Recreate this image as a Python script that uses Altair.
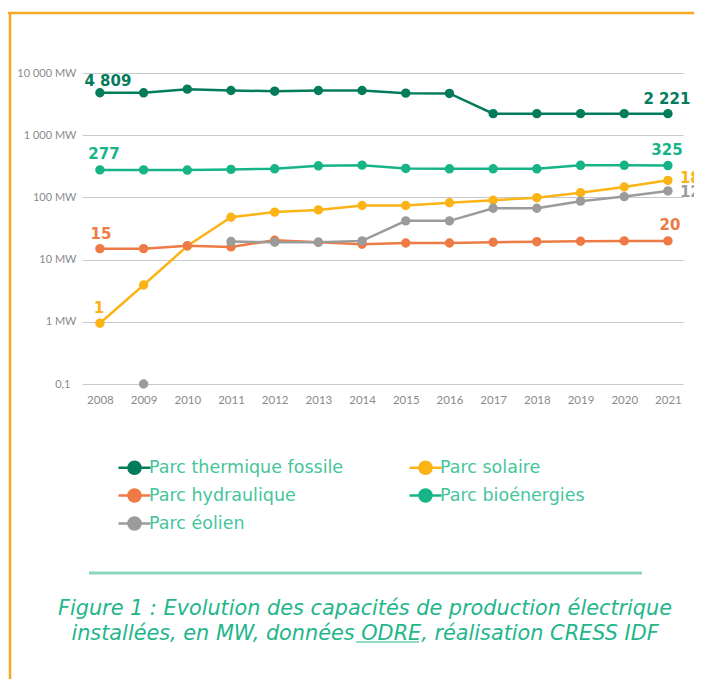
import altair as alt
import pandas as pd

# ---------------- data ----------------
years = list(range(2008, 2022))
series_names = ["Parc thermique fossile", "Parc solaire", "Parc hydraulique",
                "Parc bioénergies", "Parc éolien"]
fossile = [4809, 4800, 5500, 5230, 5100, 5230, 5230, 4740, 4690, 2221, 2221, 2221, 2221, 2221]
solaire = [0.95, 3.9, 16.5, 48, 58, 63, 74, 74, 82, 90, 99, 119, 147, 188]
hydraulique = [15, 15, 16.7, 16, 20.5, 19, 17.7, 18.5, 18.5, 19, 19.4, 19.7, 20, 20]
bioenergies = [277, 277, 275, 282, 288, 322, 330, 292, 288, 288, 288, 328, 328, 325]
eolien = [None, 0.1, None, 19.5, 19, 19, 20, 42, 42, 67, 67, 87, 103, 127]
colors = ["#047C5C", "#FBB316", "#EE7A45", "#17B488", "#9B9B9B"]
y_ticks = [0.1, 1, 10, 100, 1000, 10000]
caption_lines = ["Figure 1 : Evolution des capacités de production électrique",
                 "installées, en MW, données ODRE, réalisation CRESS IDF"]

all_series = [fossile, solaire, hydraulique, bioenergies, eolien]

rows = []
for name, vals in zip(series_names, all_series):
    seg = 0
    for yr, v in zip(years, vals):
        if v is None:
            seg += 1
            continue
        rows.append({"year": yr, "value": v, "series": name, "seg": f"{name}-{seg}"})
df = pd.DataFrame(rows)

AXFONT = "Lato"
FONT = "DejaVu Sans"
W, H = 601, 311

xscale = alt.Scale(domain=[2007.59, 2021.345], nice=False, zero=False)
yscale = alt.Scale(type="log", domain=[0.1, 10000], nice=False)

x_enc = alt.X("year:Q", scale=xscale,
              axis=alt.Axis(values=years, format="d", grid=False, domain=False, ticks=False,
                            title=None, labelFont=AXFONT, labelFontSize=11.5, labelColor="#8a8a8a",
                            labelPadding=10))
y_enc = alt.Y("value:Q", scale=yscale,
              axis=alt.Axis(values=y_ticks, grid=True, gridColor="#c9c9c9", gridWidth=1,
                            domain=False, ticks=False, title=None, labelFont=AXFONT,
                            labelFontSize=11, labelColor="#8a8a8a",
                            labelPadding={"condition": {"test": "datum.value < 1", "value": 12}, "value": 6},
                            labelExpr="datum.value >= 1 ? replace(format(datum.value, ',.0f'), ',', ' ') + ' MW' : '0,1'"))

# legend order: column-major fill of a 2-column grid gives row-major reading order
legend_order = [series_names[i] for i in (0, 2, 4, 1, 3)]
legend_colors = [colors[i] for i in (0, 2, 4, 1, 3)]

sym_path = "M-1.6,0L1.6,0M0.6,0A0.6,0.6,0,1,1,-0.6,0A0.6,0.6,0,1,1,0.6,0Z"
legend = alt.Legend(title=None, orient="none", legendX=41, legendY=383, columns=2,
                    symbolType=sym_path, symbolSize=400, symbolStrokeWidth=2.5,
                    labelFont=FONT, labelFontSize=17.5, labelColor="#45C59C",
                    labelOffset=3, rowPadding=5, columnPadding=60, labelLimit=400,
                    symbolOpacity=1)
cscale = alt.Scale(domain=legend_order, range=legend_colors)

lines = alt.Chart(df).mark_line(strokeWidth=2.5).encode(
    x=x_enc, y=y_enc,
    stroke=alt.Stroke("series:N", scale=cscale, legend=legend),
    detail="seg:N",
)
points = alt.Chart(df).mark_point(filled=True, size=55, opacity=1).encode(
    x=x_enc, y=y_enc,
    fill=alt.Fill("series:N", scale=cscale, legend=legend),
    stroke=alt.Stroke("series:N", scale=cscale, legend=legend),
)

# value labels (first / last values)
label_specs = [
    (0, 0, "center", 8, -7),
    (3, 0, "center", 4, -11),
    (2, 0, "center", 1, -10),
    (1, 0, "center", -1, -10),
    (0, -1, "center", -1, -10),
    (3, -1, "center", -1, -11),
    (2, -1, "center", 2, -11),
    (1, -1, "left", 12, 3),
    (4, -1, "left", 12, 6),
]
label_layers = []
for si, idx, align, dx, dy in label_specs:
    vals = all_series[si]
    yr = years[idx]
    v = vals[idx]
    txt = f"{v:,.0f}".replace(",", " ")
    ldf = pd.DataFrame([{"year": yr, "value": v, "txt": txt}])
    label_layers.append(
        alt.Chart(ldf).mark_text(align=align, baseline="alphabetic", dx=dx, dy=dy,
                                 font=FONT, fontWeight="bold", fontSize=15,
                                 color=colors[si]).encode(
            x=alt.X("year:Q", scale=xscale), y=alt.Y("value:Q", scale=yscale), text="txt:N")
    )

one = alt.Data(values=[{}])
border_left = alt.Chart(one).mark_rule(color="#F7A823", strokeWidth=2.5).encode(
    x=alt.value(-72), y=alt.value(-60), y2=alt.value(606))
border_top = alt.Chart(one).mark_rule(color="#F7A823", strokeWidth=2.5).encode(
    x=alt.value(-74), x2=alt.value(612), y=alt.value(-60))
separator = alt.Chart(one).mark_rule(color="#8DD5BC", strokeWidth=3).encode(
    x=alt.value(7), x2=alt.value(560), y=alt.value(500))

cap_layers = []
for i, line in enumerate(caption_lines):
    cdf = pd.DataFrame([{"t": line}])
    cap_layers.append(
        alt.Chart(cdf).mark_text(align="center", baseline="alphabetic", font=FONT,
                                 fontStyle="italic", fontSize=20.8, color="#22B68A").encode(
            x=alt.value(283), y=alt.value(542 + 25 * i), text="t:N"))
underline = alt.Chart(one).mark_rule(color="#22B68A", strokeWidth=1.2).encode(
    x=alt.value(274), x2=alt.value(337), y=alt.value(569))

chart = alt.layer(
    lines, points, *label_layers, border_left, border_top, separator, *cap_layers, underline
).properties(
    width=W, height=H,
    autosize=alt.AutoSizeParams(type="none"),
    padding={"left": 74, "top": 65, "right": 11, "bottom": 295},
).configure_view(stroke=None)

chart.save("out.html", embed_options={"renderer": "svg", "actions": False})
